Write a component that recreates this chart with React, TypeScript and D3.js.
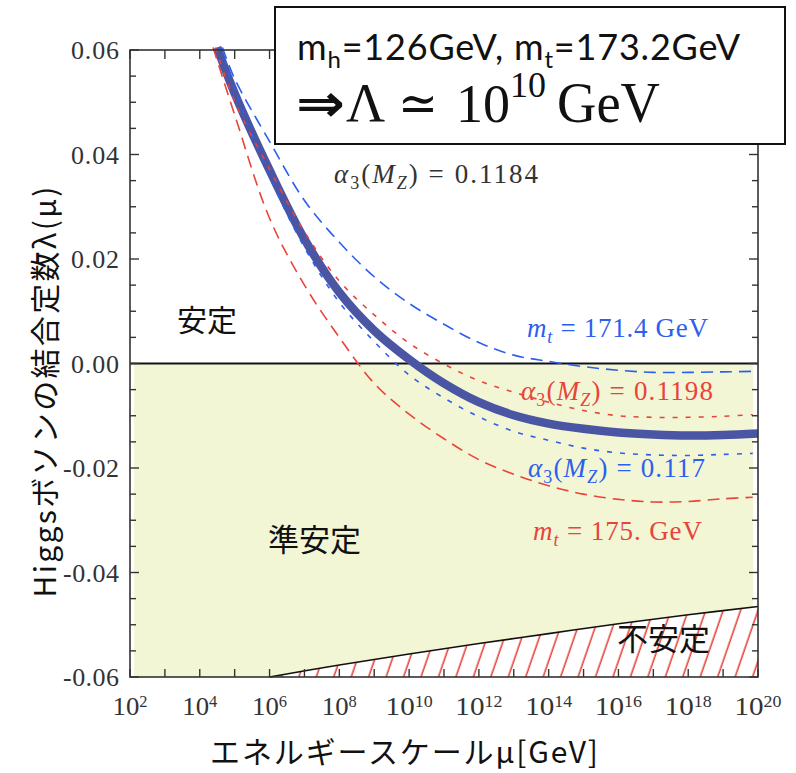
import * as d3 from "d3";

const width = 796;
const height = 773;
const plot = { left: 130, right: 758, top: 50, bottom: 677 };

// exponents of μ/GeV and λ values
const centralExp = [4.5, 5, 6, 7, 8, 9, 10, 11, 12, 13, 14, 15, 16, 17, 18, 19, 20];
const centralLambda = [0.0605, 0.0517, 0.037, 0.0238, 0.0136, 0.0063, 0.0008, -0.0038, -0.0074, -0.0099, -0.0115, -0.0125, -0.0132, -0.0136, -0.0138, -0.0137, -0.0134];

const mt1714Exp = [4.65, 5, 6, 7, 8, 9, 10, 11, 12, 13, 14, 15, 16, 17, 18, 19, 19.85];
const mt1714Lambda = [0.0605, 0.0545, 0.0425, 0.0312, 0.0232, 0.0166, 0.0115, 0.0075, 0.0040, 0.0016, 0.0004, -0.0006, -0.0013, -0.0017, -0.0017, -0.0016, -0.0015];

const a117Exp = [4.6, 5, 6, 7, 8, 9, 10, 11, 12, 13, 14, 15, 16, 17, 18, 19, 19.85];
const a117Lambda = [0.0605, 0.0525, 0.0358, 0.0222, 0.0117, 0.0042, -0.0022, -0.0066, -0.0102, -0.0130, -0.0147, -0.0162, -0.0171, -0.0175, -0.0176, -0.0174, -0.0172];

const a1198Exp = [4.45, 5, 6, 7, 8, 9, 10, 11, 12, 13, 14, 15, 16, 17, 18, 19, 19.85];
const a1198Lambda = [0.0605, 0.0502, 0.0372, 0.0252, 0.0158, 0.0093, 0.0039, -0.0001, -0.0033, -0.0055, -0.0074, -0.0090, -0.0100, -0.0103, -0.0103, -0.0101, -0.0098];

const mt175Exp = [4.38, 5, 6, 7, 8, 9, 10, 11, 12, 13, 14, 15, 16, 17, 18, 19, 19.85];
const mt175Lambda = [0.0605, 0.0476, 0.0278, 0.015, 0.005, -0.0038, -0.0097, -0.0144, -0.0184, -0.0212, -0.0234, -0.025, -0.026, -0.0265, -0.0264, -0.0259, -0.0256];

// instability boundary
const boundExp = [6, 8, 10, 12, 14, 16, 18, 20];
const boundLambda = [-0.06, -0.0577, -0.0556, -0.0536, -0.0517, -0.0498, -0.0481, -0.0465];

const yTicks = [0.06, 0.04, 0.02, 0.0, -0.02, -0.04, -0.06];
const yTickLabels = ["0.06", "0.04", "0.02", "0.00", "-0.02", "-0.04", "-0.06"];
const xTickExps = [2, 4, 6, 8, 10, 12, 14, 16, 18, 20];

const red = "#e8443b";
const blue = "#2d5fee";
const serif = "'Liberation Serif', 'Times New Roman', serif";
const sans = "'Noto Sans CJK JP', 'Noto Sans', sans-serif";

const x = d3.scaleLog().domain([1e2, 1e20]).range([plot.left, plot.right]);
const y = d3.scaleLinear().domain([-0.06, 0.06]).range([plot.bottom, plot.top]);

const toPts = (ex: number[], ls: number[]): [number, number][] =>
  ex.map((e, i) => [x(Math.pow(10, e)), y(ls[i])]);

const lineGen = d3.line<[number, number]>().curve(d3.curveCatmullRom.alpha(0.5));

function MathLabel({ xPos, yPos, color, sym, sub, rest, len }: { xPos: number; yPos: number; color: string; sym: string; sub: string; rest: string; len: number }) {
  const isAlpha = sym === "α";
  return (
    <text x={xPos} y={yPos} fontFamily={serif} fontSize={27} fill={color} textLength={len}>
      <tspan fontStyle="italic">{sym}</tspan>
      <tspan fontSize={18} dy={6} fontStyle={isAlpha ? "normal" : "italic"}>{sub}</tspan>
      {isAlpha ? (
        <>
          <tspan dy={-6}>(</tspan>
          <tspan fontStyle="italic">M</tspan>
          <tspan fontStyle="italic" fontSize={18} dy={6}>Z</tspan>
          <tspan dy={-6}>{rest}</tspan>
        </>
      ) : (
        <tspan dy={-6}>{rest}</tspan>
      )}
    </text>
  );
}

export default function App() {
  const boundPts = toPts(boundExp, boundLambda);
  const boundPath = lineGen(boundPts) as string;

  // yellow metastable band: from zero line down to the boundary
  const yLeft = plot.left + 4;
  const yRight = plot.right - 5;
  const revBound = [...boundPts].reverse();
  const yellowPath =
    `M${yLeft},${y(0) + 1}L${yRight},${y(0) + 1}L${yRight},${y(-0.0466)}` +
    (lineGen(revBound) as string).replace(/^M/, "L") +
    `L${yLeft},${plot.bottom}Z`;

  const hatchPath =
    boundPath + `L${x(1e20)},${plot.bottom}L${x(1e6)},${plot.bottom}Z`;

  const minorY = d3.range(-0.06, 0.0601, 0.005);
  const decades = d3.range(2, 21);

  return (
    <svg width={width} height={height} style={{ position: "absolute", left: 0, top: 0, background: "#fff" }}>
      <defs>
        <pattern id="hatch" patternUnits="userSpaceOnUse" width={16.5} height={30} patternTransform="rotate(19)">
          <line x1={8} y1={0} x2={8} y2={30} stroke={red} strokeWidth={1.6} />
        </pattern>
      </defs>

      <path d={yellowPath} fill="#f3f6d4" />
      <path d={hatchPath} fill="url(#hatch)" />
      <path d={boundPath} fill="none" stroke="#111" strokeWidth={1.6} />

      <line x1={plot.left} x2={plot.right} y1={y(0)} y2={y(0)} stroke="#111" strokeWidth={2} />

      <path d={lineGen(toPts(centralExp, centralLambda)) as string} fill="none" stroke="#4a55a3" strokeWidth={8.5} />
      <path d={lineGen(toPts(mt1714Exp, mt1714Lambda)) as string} fill="none" stroke={blue} strokeWidth={1.6} strokeDasharray="12,7" />
      <path d={lineGen(toPts(a117Exp, a117Lambda)) as string} fill="none" stroke={blue} strokeWidth={1.6} strokeDasharray="5,8" />
      <path d={lineGen(toPts(a1198Exp, a1198Lambda)) as string} fill="none" stroke={red} strokeWidth={1.6} strokeDasharray="5,8" />
      <path d={lineGen(toPts(mt175Exp, mt175Lambda)) as string} fill="none" stroke={red} strokeWidth={1.6} strokeDasharray="12,7" />

      <MathLabel xPos={334} yPos={183} color="#333" sym="α" sub="3" rest=") = 0.1184" len={204} />
      <MathLabel xPos={527} yPos={337} color={blue} sym="m" sub="t" rest=" = 171.4 GeV" len={181} />
      <MathLabel xPos={521} yPos={400} color={red} sym="α" sub="3" rest=") = 0.1198" len={192} />
      <MathLabel xPos={528} yPos={477} color={blue} sym="α" sub="3" rest=") = 0.117" len={177} />
      <MathLabel xPos={533} yPos={540} color={red} sym="m" sub="t" rest=" = 175. GeV" len={169} />

      <text x={177} y={331} fontFamily={sans} fontSize={30} fill="#111">安定</text>
      <text x={268} y={551} fontFamily={sans} fontSize={31} fill="#111">準安定</text>
      <text x={617} y={650} fontFamily={sans} fontSize={31} fill="#111">不安定</text>

      {/* frame */}
      <rect x={plot.left} y={plot.top} width={plot.right - plot.left} height={plot.bottom - plot.top} fill="none" stroke="#333" strokeWidth={1.6} />

      {minorY.map((v, i) => {
        const major = Math.abs(Math.round(v * 1000) % 20) === 0;
        const len = major ? 9 : 6;
        return (
          <g key={`yt${i}`} stroke="#333" strokeWidth={1.4}>
            <line x1={plot.left} x2={plot.left + len} y1={y(v)} y2={y(v)} />
            <line x1={plot.right} x2={plot.right - len} y1={y(v)} y2={y(v)} />
          </g>
        );
      })}
      {decades.map((e) => (
        <g key={`xt${e}`} stroke="#333" strokeWidth={1.4}>
          <line x1={x(Math.pow(10, e))} x2={x(Math.pow(10, e))} y1={plot.bottom} y2={plot.bottom - 8} />
          <line x1={x(Math.pow(10, e))} x2={x(Math.pow(10, e))} y1={plot.top} y2={plot.top + 9} />
        </g>
      ))}

      {yTicks.map((v, i) => (
        <text key={`yl${i}`} x={119} y={y(v) + 9} textAnchor="end" fontFamily={serif} fontSize={26} fill="#333" textLength={i >= 4 ? 56 : 48}>
          {yTickLabels[i]}
        </text>
      ))}
      {xTickExps.map((e) => (
        <text key={`xl${e}`} x={x(Math.pow(10, e))} y={715} textAnchor="middle" fontFamily={serif} fontSize={26} fill="#333"
          textLength={e >= 10 ? 47 : 35} lengthAdjust="spacingAndGlyphs">
          10<tspan dy={-8} fontSize={16}>{e}</tspan>
        </text>
      ))}

      <text transform="translate(56,392) rotate(-90)" textAnchor="middle" fontFamily={sans} fontSize={30} fill="#111" textLength={411}>
        Higgsボソンの結合定数λ(μ)
      </text>
      <text x={404} y={763} textAnchor="middle" fontFamily={sans} fontSize={30} fill="#111" textLength={388}>
        エネルギースケールμ[GeV]
      </text>

      {/* annotation box */}
      <rect x={275} y={7} width={510} height={137} fill="#fff" stroke="#111" strokeWidth={2} />
      <text x={297} y={60} fontFamily="Lato, 'Open Sans', sans-serif" fontSize={36} fill="#111" textLength={443}>
        m<tspan fontSize={24} dy={8}>h</tspan><tspan dy={-8}>=126GeV, m</tspan><tspan fontSize={24} dy={8}>t</tspan><tspan dy={-8}>=173.2GeV</tspan>
      </text>
      <g fontFamily={serif} fill="#111">
        <text x={296} y={121} fontSize={52} fontFamily="'DejaVu Sans', sans-serif" fontWeight="bold" textLength={49} lengthAdjust="spacingAndGlyphs">⇒</text>
        <text x={346} y={121} fontSize={54}>Λ</text>
        <text x={398} y={121} fontSize={52} fontFamily="'DejaVu Serif', serif" textLength={40} lengthAdjust="spacingAndGlyphs">≃</text>
        <text x={456} y={122} fontSize={54}>
          10<tspan dy={-25} fontSize={36}>10</tspan>
        </text>
        <text x={557} y={122} fontSize={56} textLength={103} lengthAdjust="spacingAndGlyphs">GeV</text>
      </g>
    </svg>
  );
}
